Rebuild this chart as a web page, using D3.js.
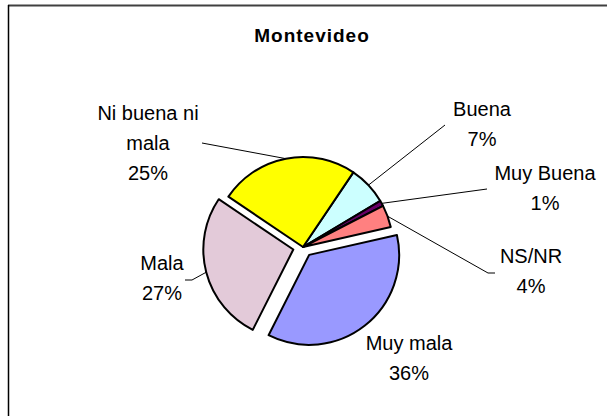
<!DOCTYPE html>
<html>
<head>
<meta charset="utf-8">
<script src="https://cdn.jsdelivr.net/npm/d3@7"></script>
<style>
  body { margin: 0; background: #fff; }
  svg text { font-family: "Liberation Sans", Arial, sans-serif; fill: #000; }
</style>
</head>
<body>
<svg width="607" height="416"></svg>
<script>
// data, clockwise from the first slice
var categories = ["Buena", "Muy Buena", "NS/NR", "Muy mala", "Mala", "Ni buena ni mala"];
var values = [7, 1, 4, 36, 27, 25];
var colors = ["#CCFFFF", "#660066", "#FF8080", "#9999FF", "#E3CAD9", "#FFFF00"];
var exploded = [false, false, false, true, true, false];
// label text lines and where they sit
var labelLines = [["Buena", "7%"], ["Muy Buena", "1%"], ["NS/NR", "4%"], ["Muy mala", "36%"], ["Mala", "27%"], ["Ni buena ni", "mala", "25%"]];
var labelPos = [[482, 116], [545, 180], [531, 263], [409, 350], [162, 270], [148, 120]];
// leader line ends (null = no leader)
var leaderEnds = [[[445, 125]], [[487, 189]], [[488, 273], [495, 273]], null, [[192, 280], [185, 280]], [[202, 143]]];

var svg = d3.select("svg"),
    cx = 303, cy = 247, r = 90, explode = 10,
    startAngle = 34 * Math.PI / 180;

// chart frame (cut off at right and bottom)
svg.append("line").attr("x1", 8).attr("x2", 607).attr("y1", 5.5).attr("y2", 5.5)
  .attr("stroke", "#404040").attr("stroke-width", 2);
svg.append("line").attr("x1", 8.5).attr("x2", 8.5).attr("y1", 5).attr("y2", 416)
  .attr("stroke", "#000").attr("stroke-width", 1.5);

svg.append("text")
  .attr("x", 312).attr("y", 42)
  .attr("text-anchor", "middle")
  .style("font-weight", "bold").style("font-size", "19px")
  .style("letter-spacing", "1px")
  .text("Montevideo");

var pie = d3.pie().sort(null)
  .startAngle(startAngle).endAngle(startAngle + 2 * Math.PI)
  .value(function(d) { return d; });
var arcs = pie(values);
var arc = d3.arc().innerRadius(0).outerRadius(r);

function offset(d, i) {
  if (!exploded[i]) return [0, 0];
  var a = (d.startAngle + d.endAngle) / 2;
  return [Math.sin(a) * explode, -Math.cos(a) * explode];
}

var g = svg.append("g").attr("transform", "translate(" + cx + "," + cy + ")");

g.selectAll("path.slice")
  .data(arcs)
  .enter().append("path")
  .attr("class", "slice")
  .attr("d", arc)
  .attr("transform", function(d, i) { var o = offset(d, i); return "translate(" + o[0] + "," + o[1] + ")"; })
  .attr("fill", function(d, i) { return colors[i]; })
  .attr("stroke", "#000")
  .attr("stroke-width", 2)
  .attr("stroke-linejoin", "round");

// leader lines start on the slice edge at its mid angle
arcs.forEach(function(d, i) {
  if (!leaderEnds[i]) return;
  var a = (d.startAngle + d.endAngle) / 2, o = offset(d, i);
  var pts = [[cx + o[0] + Math.sin(a) * r, cy + o[1] - Math.cos(a) * r]].concat(leaderEnds[i]);
  svg.append("path")
    .attr("d", d3.line()(pts))
    .attr("fill", "none")
    .attr("stroke", "#000")
    .attr("stroke-width", 1);
});

var labels = svg.selectAll("text.lbl")
  .data(labelLines)
  .enter().append("text")
  .attr("class", "lbl")
  .attr("text-anchor", "middle")
  .style("font-size", "20px");

labels.each(function(lines, i) {
  var t = d3.select(this);
  lines.forEach(function(s, j) {
    t.append("tspan")
      .attr("x", labelPos[i][0])
      .attr("y", labelPos[i][1] + j * 30)
      .text(s);
  });
});
</script>
</body>
</html>
